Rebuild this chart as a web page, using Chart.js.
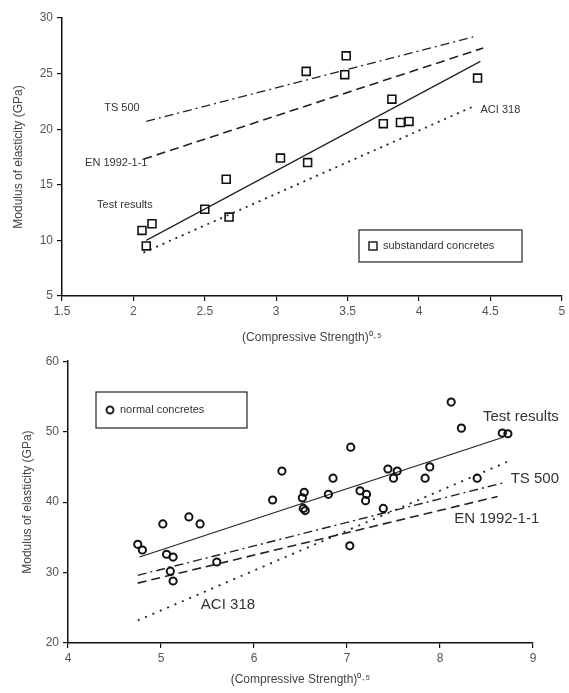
<!DOCTYPE html>
<html>
<head>
<meta charset="utf-8">
<script src="https://cdn.jsdelivr.net/npm/chart.js@4.4.1/dist/chart.umd.min.js"></script>
<style>
  html, body { margin: 0; padding: 0; background: #fff; }
  .box { position: relative; width: 569px; }
</style>
</head>
<body>
<div class="box" style="height:350px"><canvas id="topChart"></canvas></div>
<div class="box" style="height:343px"><canvas id="bottomChart"></canvas></div>
<script>
// ---- top chart: substandard concretes ----
var subX = [2.06, 2.13, 2.09, 2.50, 2.65, 2.67, 3.03, 3.22, 3.21, 3.49, 3.48, 3.81, 3.75, 3.87, 3.93, 4.41];
var subY = [10.9, 11.5, 9.5, 12.8, 15.5, 12.1, 17.4, 17.0, 25.2, 26.6, 24.9, 22.7, 20.5, 20.6, 20.7, 24.6];

var topTestX = [2.09, 4.43], topTestY = [10.0, 26.1];
var topAciX = [2.07, 4.39], topAciY = [8.9, 22.1];
var topEnX = [2.07, 4.45], topEnY = [17.3, 27.3];
var topTsX = [2.09, 4.38], topTsY = [20.7, 28.3];

// ---- bottom chart: normal concretes ----
var normX = [4.75, 4.80, 5.02, 5.06, 5.13, 5.10, 5.13, 5.30, 5.42, 5.60, 6.20, 6.30, 6.54, 6.52, 6.53, 6.55, 6.80,
             6.85, 7.04, 7.03, 7.14, 7.21, 7.20, 7.39, 7.44, 7.50, 7.54, 7.84, 7.89, 8.12, 8.23, 8.40, 8.67, 8.73];
var normY = [34.0, 33.2, 36.9, 32.6, 32.2, 30.2, 28.8, 37.9, 36.9, 31.5, 40.3, 44.4, 41.4, 40.6, 39.1, 38.8, 41.1,
             43.4, 47.8, 33.8, 41.6, 41.1, 40.2, 39.1, 44.7, 43.4, 44.4, 43.4, 45.0, 54.2, 50.5, 43.4, 49.8, 49.7];

var botTestX = [4.77, 8.68], botTestY = [32.2, 49.2];
var botTsX = [4.75, 8.70], botTsY = [29.6, 42.8];
var botEnX = [4.75, 8.62], botEnY = [28.5, 40.8];
var botAciX = [4.75, 8.72], botAciY = [23.2, 45.7];

var xTitle = '(Compressive Strength)\u2070\u00b7\u2075';
var yTitle = 'Modulus of elasticity (GPa)';

var FONT = "'Liberation Sans', Arial, sans-serif";

function pts(xs, ys) {
    return xs.map(function (x, i) { return { x: x, y: ys[i] }; });
}

function lineSet(xs, ys, dash, width) {
    return {
        data: pts(xs, ys),
        showLine: true,
        borderColor: '#222',
        borderWidth: width,
        borderDash: dash,
        pointRadius: 0,
        fill: false
    };
}

// draws the text labels next to the lines and the boxed legend
var notesPlugin = {
    id: 'notes',
    afterDatasetsDraw: function (chart, args, opts) {
        var ctx = chart.ctx;
        var xs = chart.scales.x, ys = chart.scales.y;
        ctx.save();
        ctx.fillStyle = '#333';
        ctx.textAlign = 'center';
        ctx.textBaseline = 'middle';
        ctx.font = opts.size + 'px ' + FONT;
        opts.notes.forEach(function (n) {
            ctx.fillText(n.text, xs.getPixelForValue(n.x), ys.getPixelForValue(n.y));
        });
        // legend box
        var b = opts.box;
        ctx.strokeStyle = '#222';
        ctx.lineWidth = 1.2;
        ctx.strokeRect(b.x, b.y, b.w, b.h);
        var my = b.y + b.h / 2;
        ctx.lineWidth = opts.markerWidth;
        ctx.beginPath();
        if (opts.marker === 'rect') {
            ctx.rect(b.x + 10, my - 4, 8, 8);
        } else {
            ctx.arc(b.x + 14, my, 3.5, 0, Math.PI * 2);
        }
        ctx.stroke();
        ctx.textAlign = 'left';
        ctx.font = opts.legendSize + 'px ' + FONT;
        ctx.fillText(chart.data.datasets[0].label, b.x + 24, my);
        ctx.restore();
    }
};

function axes(o) {
    return {
        x: {
            type: 'linear', min: o.xmin, max: o.xmax,
            afterFit: function (s) { s.height = o.xh; },
            afterBuildTicks: function (s) {
                var t = [];
                for (var v = o.xmin; v <= o.xmax + 1e-9; v += o.xstep) t.push({ value: +v.toFixed(2) });
                s.ticks = t;
            },
            ticks: {
                color: '#555', font: { family: FONT, size: 12 }, padding: 3, maxRotation: 0,
                callback: function (v) { return String(+v.toFixed(2)); }
            },
            grid: { drawOnChartArea: false, tickLength: 5, color: '#111', lineWidth: 1.2 },
            border: { color: '#111', width: 1.5 },
            title: { display: true, text: xTitle, color: '#444', font: { family: FONT, size: 12 }, padding: { top: 0, bottom: o.xtp } }
        },
        y: {
            type: 'linear', min: o.ymin, max: o.ymax,
            afterFit: function (s) { s.width = o.yw; },
            ticks: { stepSize: o.ystep, color: '#555', font: { family: FONT, size: 12 }, padding: 4 },
            grid: { drawOnChartArea: false, tickLength: 5, color: '#111', lineWidth: 1.2 },
            border: { color: '#111', width: 1.5 },
            title: { display: true, text: yTitle, color: '#444', font: { family: FONT, size: 12 }, padding: { top: o.ytp, bottom: 0 } }
        }
    };
}

new Chart(document.getElementById('topChart'), {
    type: 'scatter',
    data: {
        datasets: [
            {
                label: 'substandard concretes',
                data: pts(subX, subY),
                pointStyle: 'rect',
                pointRadius: 5.6,
                borderColor: '#111',
                borderWidth: 1.6,
                backgroundColor: 'rgba(0,0,0,0)'
            },
            lineSet(topTestX, topTestY, [], 1.2),
            lineSet(topAciX, topAciY, [2, 5], 1.8),
            lineSet(topEnX, topEnY, [9, 5], 1.6),
            lineSet(topTsX, topTsY, [9, 4, 2, 4], 1.4)
        ]
    },
    options: {
        responsive: true,
        maintainAspectRatio: false,
        animation: false,
        layout: { padding: { top: 18, right: 5, left: 0, bottom: 0 } },
        scales: axes({ xmin: 1.5, xmax: 5, xstep: 0.5, ymin: 5, ymax: 30, ystep: 5, xh: 54, yw: 62, xtp: 5, ytp: 11 }),
        plugins: {
            legend: { display: false },
            tooltip: { enabled: false },
            notes: {
                size: 11,
                legendSize: 11,
                marker: 'rect',
                markerWidth: 1.5,
                box: { x: 359, y: 230, w: 163, h: 32 },
                notes: [
                    { text: 'TS 500', x: 1.92, y: 21.9 },
                    { text: 'EN 1992-1-1', x: 1.88, y: 17.0 },
                    { text: 'Test results', x: 1.94, y: 13.2 },
                    { text: 'ACI 318', x: 4.57, y: 21.7 }
                ]
            }
        }
    },
    plugins: [notesPlugin]
});

new Chart(document.getElementById('bottomChart'), {
    type: 'scatter',
    data: {
        datasets: [
            {
                label: 'normal concretes',
                data: pts(normX, normY),
                pointStyle: 'circle',
                pointRadius: 3.6,
                borderColor: '#111',
                borderWidth: 2,
                backgroundColor: 'rgba(0,0,0,0)'
            },
            lineSet(botTestX, botTestY, [], 1.2),
            lineSet(botTsX, botTsY, [9, 4, 2, 4], 1.4),
            lineSet(botEnX, botEnY, [9, 5], 1.6),
            lineSet(botAciX, botAciY, [2, 6], 1.8)
        ]
    },
    options: {
        responsive: true,
        maintainAspectRatio: false,
        animation: false,
        layout: { padding: { top: 11, right: 36, left: 0, bottom: 0 } },
        scales: axes({ xmin: 4, xmax: 9, xstep: 1, ymin: 20, ymax: 60, ystep: 10, xh: 50, yw: 68, xtp: 6, ytp: 20 }),
        plugins: {
            legend: { display: false },
            tooltip: { enabled: false },
            notes: {
                size: 15,
                legendSize: 11,
                marker: 'circle',
                markerWidth: 2,
                box: { x: 96, y: 42, w: 151, h: 36 },
                notes: [
                    { text: 'Test results', x: 8.87, y: 52.1 },
                    { text: 'TS 500', x: 9.02, y: 43.3 },
                    { text: 'EN 1992-1-1', x: 8.61, y: 37.6 },
                    { text: 'ACI 318', x: 5.72, y: 25.4 }
                ]
            }
        }
    },
    plugins: [notesPlugin]
});
</script>
</body>
</html>
